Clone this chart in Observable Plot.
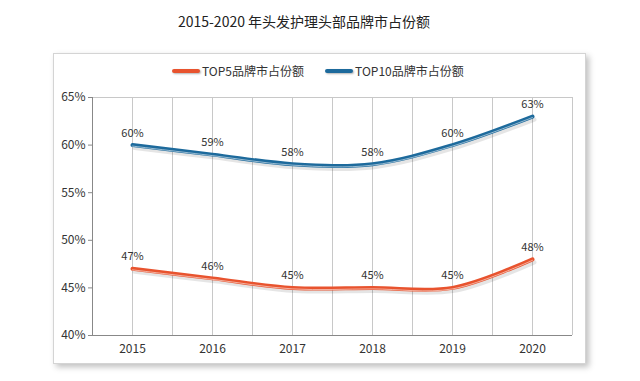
<!DOCTYPE html>
<html><head><meta charset="utf-8">
<script src="https://cdn.jsdelivr.net/npm/d3@7"></script>
<script src="https://cdn.jsdelivr.net/npm/@observablehq/plot@0.6"></script>
<style>
body{margin:0;background:#fff;}
#wrap{position:relative;width:640px;height:381px;overflow:hidden;font-family:"Noto Sans CJK SC","Noto Sans",sans-serif;}
#frame{position:absolute;left:53px;top:53px;width:531px;height:309px;border:1px solid #d4d4d4;box-shadow:3px 3px 6px rgba(0,0,0,0.25);background:#fff;}
#title{position:absolute;left:0;top:11px;width:608px;text-align:center;font-size:14px;color:#222;}
#legend{position:absolute;top:62px;left:172px;font-size:12px;color:#333;display:flex;align-items:center;}
.sw{display:inline-block;width:28px;height:4px;border-radius:2px;margin-right:2px;box-shadow:1px 1px 2px rgba(0,0,0,0.3);}
#chart{position:absolute;left:0;top:0;}
</style></head>
<body><div id="wrap"><div id="frame"></div><div id="title">2015-2020 年头发护理头部品牌市占份额</div>
<div id="legend"><span class="sw" style="background:#e8532e"></span><span>TOP5品牌市占份额</span><span style="width:21px;display:inline-block"></span><span class="sw" style="background:#1d6a9c"></span><span>TOP10品牌市占份额</span></div>
<div id="chart"></div></div>
<script>
const years = [2015, 2016, 2017, 2018, 2019, 2020];
const top5 = [47, 46, 45, 45, 45, 48];
const top10 = [60, 59, 58, 58, 60, 63];
const seriesNames = ["TOP5品牌市占份额", "TOP10品牌市占份额"];
const colors = ["#e8532e", "#1d6a9c"];
const yTicks = [40, 45, 50, 55, 60, 65];
const gridX = [2014.5, 2015, 2015.5, 2016, 2016.5, 2017, 2017.5, 2018, 2018.5, 2019, 2019.5, 2020, 2020.5];

const data = [];
years.forEach((y, i) => {
  data.push({year: y, value: top5[i], series: seriesNames[0]});
  data.push({year: y, value: top10[i], series: seriesNames[1]});
});

const chart = Plot.plot({
  width: 640, height: 381,
  marginLeft: 92, marginRight: 68, marginTop: 97, marginBottom: 46,
  style: {background: "transparent", fontFamily: "'Noto Sans CJK SC','Noto Sans',sans-serif", fontSize: "11px", color: "#404040"},
  x: {domain: [2014.5, 2020.5], axis: null},
  y: {domain: [40, 65], axis: null},
  color: {domain: seriesNames, range: colors},
  marks: [
    Plot.ruleX(gridX, {stroke: "#c8c8c8", strokeWidth: 1}),
    Plot.ruleY([65], {stroke: "#c8c8c8"}),
    Plot.axisX({ticks: years, tickFormat: d => String(d), tickSize: 0, tickPadding: 9, fontSize: 12, color: "#333", label: null}),
    Plot.axisY({ticks: yTicks, tickFormat: d => d + "%", tickSize: 4, tickPadding: 3, fontSize: 12, color: "#333", stroke: "#888", label: null}),
    Plot.ruleX([2014.5], {stroke: "#888"}),
    Plot.ruleY([40], {stroke: "#888"}),
    Plot.line(data, {x: "year", y: "value", z: "series", curve: "catmull-rom", stroke: "#000", strokeOpacity: 0.1, strokeWidth: 4, dx: 2, dy: 3}),
    Plot.line(data, {x: "year", y: "value", z: "series", curve: "catmull-rom", stroke: "series", strokeWidth: 4}),
    Plot.line(data, {x: "year", y: "value", z: "series", curve: "catmull-rom", stroke: "#fff", strokeOpacity: 0.55, strokeWidth: 1, dy: 1}),
    Plot.text(data, {x: "year", y: "value", text: d => d.value + "%", dy: -12, fontSize: 11, fill: "#333"})
  ]
});
document.getElementById("chart").appendChild(chart);
</script></body></html>
